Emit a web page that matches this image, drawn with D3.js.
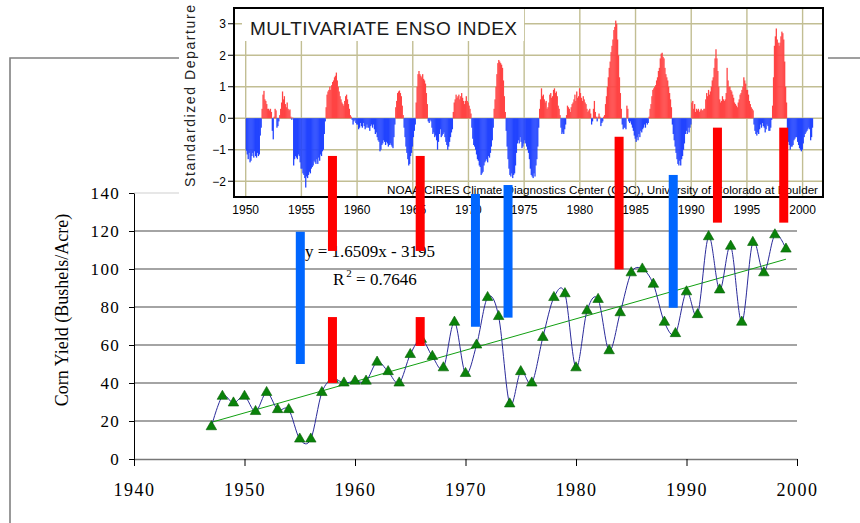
<!DOCTYPE html>
<html>
<head>
<meta charset="utf-8">
<script src="https://cdn.jsdelivr.net/npm/d3@7"></script>
<style>
  body { margin: 0; background: #fff; }
  svg { display: block; }
</style>
</head>
<body>
<script>
// ---- corn yield data ----
const cornYears = d3.range(1947, 2000);
const cornYield = [17, 33, 29.5, 33, 25, 35, 26, 26, 10.5, 10.5,
                   35, 42, 40, 41, 41, 51, 46, 40, 55, 63,
                   54, 48, 72, 45, 60, 85, 75, 29, 46, 40,
                   64, 85, 87, 48, 78, 84, 57, 77, 98, 100,
                   92, 72, 66, 88, 76, 117, 89, 112, 72, 114,
                   98, 118, 110.5];
const trendSlope = 1.6509;
const trendIntercept = -3195;
const yTicks = [0, 20, 40, 60, 80, 100, 120, 140];
const xTicks = [1940, 1950, 1960, 1970, 1980, 1990, 2000];

// El Nino (red) / La Nina (blue) marker bars, in yield units
const elNinoMarks = [
  {year: 1957.96, from: 109.5, to: 159.5}, {year: 1957.96, from: 40, to: 74.7},
  {year: 1965.9, from: 109.5, to: 159.5}, {year: 1965.9, from: 59.5, to: 74.7},
  {year: 1983.9, from: 99.8, to: 169.6},
  {year: 1992.8, from: 124.4, to: 174.4},
  {year: 1998.8, from: 124.4, to: 174.4}
];
const laNinaMarks = [
  {year: 1955.05, from: 50, to: 119.6},
  {year: 1970.9, from: 69.6, to: 139.5},
  {year: 1973.85, from: 74.4, to: 144.2},
  {year: 1988.8, from: 79.6, to: 149.5}
];

// ---- multivariate ENSO index, monthly from Jan 1950 ----
const meiStartYear = 1950;
const meiValues = [
  -1.03, -1.15, -1.3, -1.1, -1.4, -1.35, -1.2, -1.1, -1.25, -1.05, -1.2, -1.25,
  -1.1, -1.2, -1.15, -0.55, -0.3, 0.3, 0.75, 0.87, 0.6, 0.55, 0.45, 0.3,
  0.3, 0.25, 0.3, 0.2, -0.4, -0.67, 0.05, 0.3, 0.25, -0.3, -0.25, -0.1,
  0.1, 0.3, 0.5, 0.85, 0.6, 0.7, 0.45, 0.35, 0.5, 0.3, 0.25, 0.28,
  0.05, -0.05, 0.02, -1.5, -1.3, -1.2, -1.25, -1.3, -1.15, -1.2, -1.4, -1.6,
  -1.6, -1.75, -1.8, -1.9, -2.2, -1.85, -1.9, -1.8, -1.7, -1.75, -1.6, -1.55,
  -1.5, -1.35, -1.4, -1.45, -1.3, -1.45, -1.25, -1.35, -1.15, -1.2, -1.05, -1.0,
  -0.5, -0.1, 0.35, 0.75, 0.85, 0.9, 1.0, 0.9, 1.05, 1.15, 1.2, 1.3,
  1.35, 1.45, 1.2, 1.0, 0.85, 0.7, 0.6, 0.5, 0.45, 0.4, 0.55, 0.7,
  0.75, 0.6, 0.45, 0.3, 0.1, 0.05, -0.05, -0.2, -0.1, -0.05, -0.15, -0.2,
  -0.2, -0.35, -0.3, -0.15, -0.25, -0.3, -0.15, -0.25, -0.35, -0.3, -0.2, -0.3,
  -0.3, -0.4, -0.25, -0.2, -0.3, -0.2, -0.35, -0.5, -0.45, -0.6, -0.7, -0.75,
  -1.05, -1.0, -0.85, -0.8, -0.7, -0.75, -0.85, -0.75, -0.8, -0.9, -0.85, -0.8,
  -0.85, -0.9, -0.95, -0.6, -0.2, 0.35, 0.55, 0.8, 0.85, 0.88, 0.8, 0.7,
  0.4, 0.1, -0.3, -0.6, -0.9, -1.1, -1.3, -1.5, -1.45, -1.2, -1.1, -0.9,
  -0.6, -0.4, -0.2, 0.5, 1.0, 1.4, 1.5, 1.4, 1.35, 1.3, 1.4, 1.25,
  1.2, 1.1, 0.8, 0.45, -0.1, -0.15, -0.05, -0.1, -0.3, -0.5, -0.45, -0.6,
  -0.55, -0.7, -1.0, -0.75, -0.5, -0.35, -0.6, -0.55, -0.5, -0.45, -0.6, -0.75,
  -0.85, -1.0, -0.9, -0.75, -0.6, -0.45, -0.35, 0.2, 0.5, 0.6, 0.75, 0.65,
  0.7, 0.75, 0.6, 0.7, 0.8, 0.65, 0.55, 0.45, 0.55, 0.7, 0.55, 0.5,
  0.4, 0.3, 0.15, -0.3, -0.65, -0.85, -0.9, -1.0, -1.15, -1.3, -1.35, -1.5,
  -1.55, -1.8, -1.75, -1.7, -1.5, -1.4, -1.35, -1.3, -1.4, -1.2, -1.25, -1.1,
  -0.9, -0.7, -0.3, 0.3, 0.6, 1.0, 1.4, 1.75, 1.85, 1.8, 1.75, 1.7,
  1.6, 1.2, 0.7, 0.2, -0.4, -0.9, -1.3, -1.6, -1.8, -1.85, -1.75, -1.9,
  -1.8, -1.75, -1.5, -1.1, -0.8, -0.7, -0.8, -0.6, -0.75, -0.95, -0.9, -0.8,
  -0.7, -0.8, -0.9, -1.0, -1.1, -1.3, -1.6, -1.8, -1.85, -1.9, -1.75, -1.85,
  -1.5, -1.3, -0.9, -0.3, 0.3, 0.6, 0.95, 0.7, 0.75, 0.6, 0.5, 0.55,
  0.3, 0.35, 0.5, 0.75, 0.8, 0.65, 0.7, 0.9, 0.95, 0.8, 0.85, 0.7,
  0.4, 0.3, 0.1, -0.3, -0.5, -0.45, -0.5, -0.35, -0.2, 0.1, 0.4, 0.35,
  0.3, 0.2, 0.35, 0.45, 0.5, 0.6, 0.75, 0.55, 0.85, 0.65, 0.7, 0.95,
  0.8, 0.65, 0.55, 0.7, 0.6, 0.5, 0.45, 0.3, 0.2, 0.25, 0.3, 0.15,
  -0.2, -0.1, 0.3, 0.55, 0.2, 0.05, -0.1, 0.05, 0.15, 0.05, -0.25, -0.15,
  -0.1, 0.05, 0.1, 0.45, 0.7, 1.0, 1.3, 1.6, 1.8, 2.1, 2.3, 2.5,
  2.8, 2.9, 3.1, 3.0, 2.5, 2.0, 1.3, 0.8, 0.3, -0.2, -0.35, -0.3,
  -0.3, -0.35, 0.4, 0.3, -0.1, -0.15, -0.1, -0.2, -0.3, -0.4, -0.55, -0.65,
  -0.75, -0.6, -0.7, -0.5, -0.6, -0.4, -0.45, -0.35, -0.3, -0.2, -0.3, -0.15,
  -0.2, -0.15, 0.05, 0.3, 0.45, 0.7, 0.9, 0.95, 1.0, 1.05, 1.2, 1.3,
  1.5, 1.6, 1.9, 2.05, 2.08, 1.95, 1.9, 1.6, 1.4, 1.3, 1.2, 1.0,
  0.8, 0.6, 0.35, -0.2, -0.5, -0.7, -0.9, -1.1, -1.3, -1.45, -1.5, -1.35,
  -1.5, -1.3, -1.2, -1.0, -0.8, -0.5, -0.4, -0.5, -0.3, -0.45, -0.3, -0.2,
  0.5, 0.55, 0.3, 0.45, 0.2, 0.3, 0.25, 0.3, 0.2, 0.25, 0.3, 0.25,
  0.25, 0.3, 0.3, 0.6, 0.8, 0.7, 0.9, 0.75, 0.85, 1.0, 1.2, 1.3,
  1.6, 1.9, 2.19, 1.9, 1.5, 1.0, 0.6, 0.5, 0.55, 0.7, 0.6, 0.55,
  0.6, 0.8, 1.6, 1.2, 1.0, 1.0, 0.9, 0.85, 0.75, 0.65, 0.5, 0.45,
  0.4, 0.35, 0.5, 0.6, 0.75, 0.8, 0.9, 1.0, 1.3, 1.2, 1.1, 0.9,
  0.9, 0.75, 0.55, 0.45, 0.35, 0.3, 0.25, -0.2, -0.4, -0.5, -0.55, -0.45,
  -0.5, -0.35, -0.2, -0.3, -0.15, -0.25, -0.3, -0.45, -0.35, -0.2, -0.25, -0.4,
  -0.4, -0.3, -0.05, 0.4, 1.3, 2.3, 2.6, 2.85, 2.5, 2.4, 2.3, 2.4,
  2.6, 2.75, 2.7, 2.5, 1.8, 1.0, 0.5, -0.4, -0.75, -0.85, -1.0, -0.9,
  -0.9, -0.85, -0.7, -0.65, -0.6, -0.6, -0.75, -0.85, -0.95, -1.0, -1.05, -1.0,
  -0.8, -0.6, -0.5, -0.45, -0.4, -0.35, -0.3, -0.35, -0.7, -0.6, -0.3
];
const meiYTicks = [-2, -1, 0, 1, 2, 3];
const meiXTicks = [1950, 1955, 1960, 1965, 1970, 1975, 1980, 1985, 1990, 1995, 2000];

const serif = '"Liberation Serif", "Times New Roman", serif';
const sans = '"Liberation Sans", Arial, sans-serif';

const svg = d3.select("body").append("svg")
    .attr("width", 860)
    .attr("height", 523);

// ================= main chart =================
const x = d3.scaleLinear().domain([1940, 2000]).range([134, 797]);
const y = d3.scaleLinear().domain([0, 140]).range([459, 193]);

//gridlines
svg.append("g").selectAll("line")
    .data(yTicks.filter(d => d > 0))
    .join("line")
    .attr("x1", x(1940)).attr("x2", x(2000))
    .attr("y1", d => y(d)).attr("y2", d => y(d))
    .attr("stroke", d => d == 140 ? "#d0d0d0" : "#4a4a4a")
    .attr("stroke-width", 1.2);

const yAxis = svg.append("g")
    .attr("transform", `translate(${x(1940)},0)`)
    .call(d3.axisLeft(y).tickValues(yTicks).tickSize(5).tickSizeOuter(0).tickPadding(9));
yAxis.select(".domain").attr("stroke", "#000");
yAxis.selectAll("text")
    .style("font-family", serif)
    .style("font-size", "17px")
    .style("letter-spacing", "1.3px")
    .attr("fill", "#000");

const xAxis = svg.append("g")
    .attr("transform", `translate(0,${y(0)})`)
    .call(d3.axisBottom(x).tickValues(xTicks).tickFormat(d3.format("d")).tickSize(7).tickSizeOuter(0).tickPadding(17));
xAxis.select(".domain").attr("stroke", "#777").attr("stroke-width", 1.5);
xAxis.selectAll("text")
    .style("font-family", serif)
    .style("font-size", "18px")
    .style("letter-spacing", "1.5px")
    .attr("fill", "#000");

svg.append("text")
    .attr("transform", `translate(68,310) rotate(-90)`)
    .attr("text-anchor", "middle")
    .style("font-family", serif)
    .style("font-size", "18px")
    .text("Corn Yield (Bushels/Acre)");

// trend line
svg.append("line")
    .attr("x1", x(1947)).attr("y1", y(trendSlope * 1947 + trendIntercept))
    .attr("x2", x(1999)).attr("y2", y(trendSlope * 1999 + trendIntercept))
    .attr("stroke", "#11a011")
    .attr("stroke-width", 1);

// smoothed yield line
const pts = cornYears.map((yr, i) => [x(yr), y(cornYield[i])]);
svg.append("path")
    .attr("d", d3.line().curve(d3.curveCatmullRom.alpha(0))(pts))
    .attr("fill", "none")
    .attr("stroke", "#2a2a9a")
    .attr("stroke-width", 1);

svg.append("g").selectAll("path")
    .data(pts)
    .join("path")
    .attr("transform", d => `translate(${d[0]},${d[1]})`)
    .attr("d", d3.symbol(d3.symbolTriangle, 48))
    .attr("fill", "#0a820a")
    .attr("stroke", "#066006")
    .attr("stroke-width", 0.6);

// regression text
svg.append("text")
    .attr("x", 305).attr("y", 257)
    .style("font-family", serif)
    .style("font-size", "17px")
    .text("y = 1.6509x - 3195");

const r2 = svg.append("text")
    .attr("x", 333).attr("y", 285)
    .style("font-family", serif)
    .style("font-size", "17px");
r2.append("tspan").text("R");
r2.append("tspan").attr("dy", -8).attr("dx", 2).style("font-size", "11px").text("2");
r2.append("tspan").attr("dy", 8).text(" = 0.7646");

// outer frame
svg.append("path")
    .attr("d", "M10,523V58H179M828,58H860")
    .attr("fill", "none")
    .attr("stroke", "#808080")
    .attr("stroke-width", 1.6);

// ================= MEI inset =================
const xi = d3.scaleLinear().domain([1950, 2000]).range([245.7, 802.6]);
const yi = d3.scaleLinear().domain([-2.5, 3.5]).range([197, 8]);
const inset = svg.append("g");

inset.append("rect")
    .attr("x", 179).attr("y", 0)
    .attr("width", 649).attr("height", 218)
    .attr("fill", "#fff");

inset.append("g").selectAll("line")
    .data(meiXTicks)
    .join("line")
    .attr("x1", d => xi(d)).attr("x2", d => xi(d))
    .attr("y1", yi(3.5)).attr("y2", yi(-2.5))
    .attr("stroke", "#c2be93").attr("stroke-width", 1.4);
inset.append("g").selectAll("line")
    .data(meiYTicks)
    .join("line")
    .attr("x1", 234).attr("x2", 823)
    .attr("y1", d => yi(d)).attr("y2", d => yi(d))
    .attr("stroke", "#c2be93").attr("stroke-width", 1.4);

// title box covers the grid
inset.append("rect")
    .attr("x", 242).attr("y", 9)
    .attr("width", 282).attr("height", 32)
    .attr("fill", "#fff");
inset.append("text")
    .attr("x", 250).attr("y", 35)
    .attr("textLength", 267)
    .attr("lengthAdjust", "spacing")
    .style("font-family", sans)
    .style("font-size", "19px")
    .attr("fill", "#1a1a1a")
    .text("MULTIVARIATE ENSO INDEX");

const monthW = xi(1950 + 1 / 12) - xi(1950);
inset.append("g").selectAll("rect")
    .data(meiValues)
    .join("rect")
    .attr("x", (d, i) => xi(meiStartYear + i / 12))
    .attr("width", monthW + 0.35)
    .attr("y", d => d > 0 ? yi(d) : yi(0))
    .attr("height", d => Math.abs(yi(d) - yi(0)))
    .attr("fill", d => d > 0 ? "#ff4444" : "#2244ff");

// frame
inset.append("rect")
    .attr("x", 234).attr("y", 8)
    .attr("width", 589).attr("height", 189)
    .attr("fill", "none")
    .attr("stroke", "#000").attr("stroke-width", 2);

inset.append("g").selectAll("line")
    .data(meiYTicks)
    .join("line")
    .attr("x1", 228).attr("x2", 234)
    .attr("y1", d => yi(d)).attr("y2", d => yi(d))
    .attr("stroke", "#000");

inset.append("g").selectAll("text")
    .data(meiYTicks)
    .join("text")
    .attr("x", 226).attr("y", d => yi(d) + 4.5)
    .attr("text-anchor", "end")
    .style("font-family", sans)
    .style("font-size", "12px")
    .text(d => d < 0 ? "\u2212" + Math.abs(d) : d);

inset.append("g").selectAll("text")
    .data(meiXTicks)
    .join("text")
    .attr("x", d => xi(d)).attr("y", 214)
    .attr("text-anchor", "middle")
    .style("font-family", sans)
    .style("font-size", "12px")
    .text(d => d);

inset.append("text")
    .attr("transform", "translate(195,96) rotate(-90)")
    .attr("text-anchor", "middle")
    .attr("textLength", 182)
    .attr("lengthAdjust", "spacing")
    .style("font-family", sans)
    .style("font-size", "14px")
    .attr("fill", "#222")
    .text("Standardized Departure");

inset.append("text")
    .attr("x", 387).attr("y", 194)
    .attr("textLength", 431)
    .attr("lengthAdjust", "spacingAndGlyphs")
    .style("font-family", sans)
    .style("font-size", "10.5px")
    .text("NOAA-CIRES Climate Diagnostics Center (CDC), University of Colorado at Boulder");

// ================= ENSO marker bars on top =================
const barW = 9;
svg.append("g").selectAll("rect")
    .data(elNinoMarks)
    .join("rect")
    .attr("x", d => x(d.year) - barW / 2)
    .attr("width", barW)
    .attr("y", d => y(d.to))
    .attr("height", d => y(d.from) - y(d.to))
    .attr("fill", "#ff0000");

svg.append("g").selectAll("rect")
    .data(laNinaMarks)
    .join("rect")
    .attr("x", d => x(d.year) - barW / 2)
    .attr("width", barW)
    .attr("y", d => y(d.to))
    .attr("height", d => y(d.from) - y(d.to))
    .attr("fill", "#0066ff");
</script>
</body>
</html>
